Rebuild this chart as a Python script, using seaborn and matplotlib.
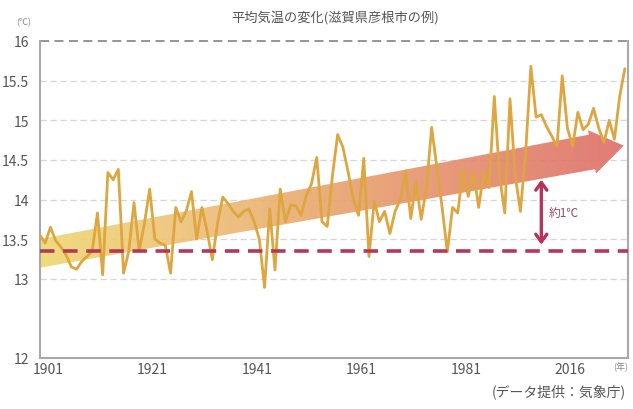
import numpy as np
import matplotlib
matplotlib.use("Agg")
import matplotlib.pyplot as plt
import seaborn as sns
from matplotlib.path import Path
from matplotlib.patches import PathPatch
from matplotlib.colors import LinearSegmentedColormap
import matplotlib.transforms as mtransforms

# Annual mean temperature, Hikone (°C)
temps = [
    13.55, 13.45, 13.65, 13.48, 13.40, 13.30, 13.15, 13.12, 13.22, 13.28,
    13.35, 13.83, 13.05, 14.34, 14.25, 14.38, 13.07, 13.35, 13.96, 13.35,
    13.70, 14.13, 13.50, 13.45, 13.42, 13.07, 13.90, 13.72, 13.85, 14.10,
    13.50, 13.90, 13.60, 13.24, 13.70, 14.03, 13.95, 13.85, 13.78, 13.85,
    13.88, 13.72, 13.50, 12.89, 13.88, 13.11, 14.13, 13.72, 13.93, 13.92,
    13.80, 14.05, 14.20, 14.53, 13.72, 13.66, 14.30, 14.82, 14.66, 14.35,
    14.00, 13.80, 14.52, 13.28, 13.98, 13.72, 13.85, 13.57, 13.85, 14.00,
    14.36, 13.76, 14.22, 13.75, 14.15, 14.91, 14.40, 13.90, 13.34, 13.90,
    13.83, 14.38, 14.04, 14.35, 13.90, 14.35, 14.15, 15.30, 14.30, 13.83,
    15.27, 14.30, 13.85, 14.60, 15.68, 15.04, 15.07, 14.92, 14.80, 14.67,
    15.56, 14.90, 14.67, 15.10, 14.88, 14.95, 15.15, 14.90, 14.72, 15.00,
    14.76, 15.30, 15.65,
]
point = np.arange(len(temps))

label_pos = [0, 20, 40, 60, 80, 100]
year_labels = ["1901", "1921", "1941", "1961", "1981", "2016"]
y_ticks = [12, 13, 13.5, 14, 14.5, 15, 15.5, 16]
y_labels = ["12", "13", "13.5", "14", "14.5", "15", "15.5", "16"]
grid_levels = [13, 13.5, 14, 14.5, 15, 15.5]
baseline = 13.35
trend_start, trend_end = 13.32, 14.60
rise_text = "約1℃"

sns.set_style("white")
plt.rcParams["font.family"] = ["Noto Sans CJK JP", "DejaVu Sans"]

fig = plt.figure(figsize=(6.33, 4.10), dpi=100)
ax = fig.add_axes([40 / 633, 1 - 359 / 410, 588 / 633, 317 / 410])
ax.set_xlim(0, 112.6)
ax.set_ylim(12, 16)

# dashed horizontal guides
for g in grid_levels:
    ax.axhline(g, color="#d6d6d6", lw=0.9, ls=(0, (5, 3)), zorder=1)
ax.axhline(16, color="#8c8c8c", lw=1.3, ls=(0, (5, 3)), zorder=1, clip_on=False)

# trend arrow: built in a pixel-like frame so the head stays square to the shaft
sx, sy = 5.22, 79.0
x0, x1, tip_x = -2.0, 105.7, 111.8
slope = (trend_end - trend_start) / x1
def centre(i):
    return trend_start + slope * i
d = np.array([sx, slope * sy])
d = d / np.hypot(*d)
n = np.array([-d[1], d[0]])
def pt(i, off_px):
    X = i * sx + n[0] * off_px
    Y = centre(i) * sy + n[1] * off_px
    return (X / sx, Y / sy)
shaft_l, shaft_r, head = 14.0, 17.5, 22.0
verts = [
    pt(x0, -shaft_l), pt(x1, -shaft_r), pt(x1, -head),
    (tip_x, centre(x1) + 0.08),
    pt(x1, head), pt(x1, shaft_r), pt(x0, shaft_l), pt(x0, -shaft_l),
]
codes = [Path.MOVETO] + [Path.LINETO] * 6 + [Path.CLOSEPOLY]
arrow = PathPatch(Path(verts, codes), facecolor="none", edgecolor="none")
ax.add_patch(arrow)
cmap = LinearSegmentedColormap.from_list(
    "warm", ["#efd873", "#eec27a", "#e9a56e", "#e48a6e", "#df6f6a"])
grad = np.linspace(0, 1, 256).reshape(1, -1)
img = ax.imshow(grad, cmap=cmap, aspect="auto", extent=[0, 112.6, 12.8, 15.2],
                alpha=0.92, zorder=2, interpolation="bilinear")
img.set_clip_path(arrow)

# temperature series
sns.lineplot(x=point, y=temps, ax=ax, color="#dea640", lw=2.0, zorder=3,
             legend=False)

# 20th-century level
ax.axhline(baseline, color="#b3385a", lw=2.6, ls=(0, (4.0, 2.4)), zorder=4)

# rise marker
mx = 96.0
ax.annotate("", xy=(mx, 14.25), xytext=(mx, 13.43),
            arrowprops=dict(arrowstyle="<->,head_length=0.55,head_width=0.4",
                            color="#b8325a", lw=2.4, shrinkA=0, shrinkB=0),
            zorder=5)
ax.text(mx + 1.4, 13.83, rise_text, fontsize=8.5, color="#9a4a66",
        ha="left", va="center", zorder=5)

# axes frame
for side in ["left", "right", "bottom"]:
    ax.spines[side].set_color("#a9a9a9")
    ax.spines[side].set_linewidth(1.5)
ax.spines["top"].set_visible(False)
ax.set_xlabel("")
ax.set_ylabel("")

ax.set_xticks(label_pos, year_labels)
ax.set_yticks(y_ticks, y_labels)
ax.tick_params(axis="both", length=0, labelsize=10, labelcolor="#555555")
ax.tick_params(axis="x", pad=3)
ax.tick_params(axis="y", pad=8)
shift = mtransforms.ScaledTranslation(8 / 100, 0, fig.dpi_scale_trans)
for lab in ax.get_xticklabels():
    lab.set_transform(lab.get_transform() + shift)

fig.text(335 / 633, 1 - 18 / 410, "平均気温の変化(滋賀県彦根市の例)",
         ha="center", va="center", fontsize=9.5, color="#555555")
fig.text(24 / 633, 1 - 23 / 410, "(℃)", ha="center", va="center",
         fontsize=6.5, color="#888888")
fig.text(613 / 633, 1 - 367 / 410, "(年)", ha="left", va="center",
         fontsize=6.5, color="#888888")
fig.text(626 / 633, 1 - 392 / 410, "(データ提供：気象庁)", ha="right",
         va="center", fontsize=10, color="#555555")

fig.savefig("out.png", dpi=100)
